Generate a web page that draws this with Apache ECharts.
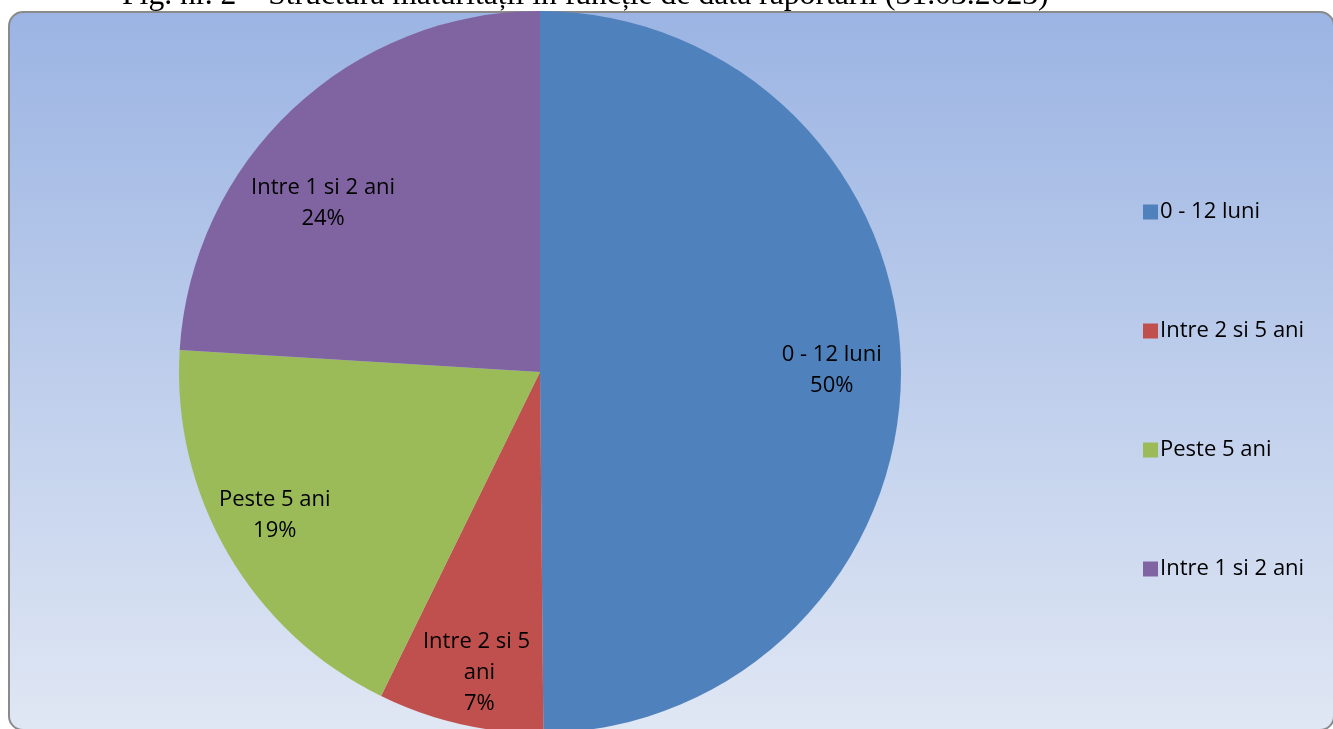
<!DOCTYPE html>
<html>
<head>
<meta charset="utf-8">
<script src="https://cdn.jsdelivr.net/npm/echarts@6/dist/echarts.min.js"></script>
<style>
  html, body { margin: 0; padding: 0; background: #fff; }
  #chart { width: 1333px; height: 729px; }
</style>
</head>
<body>
<div id="chart"></div>
<script>
// data (shares in %)
const categories = ['0 - 12 luni', 'Intre 2 si 5 ani', 'Peste 5 ani', 'Intre 1 si 2 ani']
const shares = [49.8, 7.4, 18.7, 24.0]
const colors = ['#4F81BD', '#C0504D', '#9BBB59', '#8064A2']
const titleText = 'Fig. nr. 2 \u2013 Structura maturității în funcție de data raportării (31.03.2023)'

const chart = echarts.init(document.getElementById('chart'))

const R = 361
const center = [540, 372]
const font = '"Open Sans", "Noto Sans", sans-serif'

// small nudges so labels sit where Excel put them
const labelNudge = {
  'Intre 2 si 5 ani': [4, 16],
  'Peste 5 ani': [-13, -3],
  'Intre 1 si 2 ani': [-17, 44]
}

const pieData = categories.map((name, i) => ({
  name: name,
  value: shares[i],
  itemStyle: { color: colors[i] }
}))

// label data: the narrow red slice wraps its text
const labelData = categories.map((name, i) => {
  const item = { name: name, value: shares[i] }
  if (name === 'Intre 2 si 5 ani') {
    item.label = { width: 118, overflow: 'break' }
  }
  return item
})

const option = {
  animation: false,
  graphic: [
    {
      type: 'rect',
      z: 0,
      shape: { x: 9, y: 12, width: 1325, height: 718, r: 14 },
      style: {
        fill: new echarts.graphic.LinearGradient(0, 0, 0, 1, [
          { offset: 0, color: '#9BB4E3' },
          { offset: 1, color: '#E0E7F4' }
        ]),
        stroke: '#8A8A8A',
        lineWidth: 2
      }
    },
    {
      type: 'text',
      z: 10,
      x: 122,
      y: -4,
      style: {
        text: titleText,
        font: '31.7px "Liberation Serif", "Times New Roman", serif',
        fill: '#000',
        align: 'left',
        verticalAlign: 'middle'
      }
    }
  ],
  legend: {
    orient: 'vertical',
    left: 1138,
    top: 196,
    itemWidth: 15,
    itemHeight: 15,
    itemGap: 97,
    icon: 'rect',
    data: categories,
    textStyle: { fontFamily: font, fontSize: 22, lineHeight: 22, color: '#000', padding: [0, 0, 0, -3] }
  },
  series: [
    {
      type: 'pie',
      z: 2,
      center: center,
      radius: [0, R],
      startAngle: 90,
      clockwise: true,
      silent: true,
      label: { show: false },
      labelLine: { show: false },
      itemStyle: { borderWidth: 0 },
      data: pieData
    },
    {
      // transparent ring only used to place labels at ~0.8 of the radius
      type: 'pie',
      z: 3,
      center: center,
      radius: [R * 0.6, R],
      startAngle: 90,
      clockwise: true,
      silent: true,
      itemStyle: { color: 'rgba(0,0,0,0)' },
      label: {
        show: true,
        position: 'inside',
        color: '#000',
        fontFamily: font,
        fontSize: 22,
        lineHeight: 31,
        align: 'center',
        formatter: p => p.name + '\n' + Math.round(p.value) + '%'
      },
      labelLine: { show: false },
      labelLayout: function (params) {
        const name = categories[params.dataIndex]
        const n = labelNudge[name] || [0, 0]
        return { dx: n[0], dy: n[1] }
      },
      data: labelData
    }
  ]
}

chart.setOption(option)
</script>
</body>
</html>
